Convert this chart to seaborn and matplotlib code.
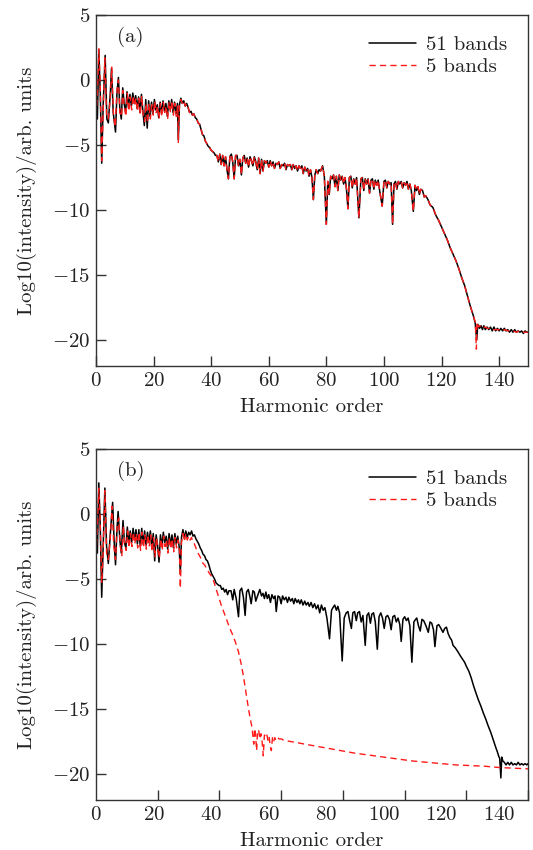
import numpy as np
import matplotlib
matplotlib.use('Agg')
import matplotlib.pyplot as plt
import seaborn as sns

# ---- panel (a): 51 bands (black) ----
a_order_51 = [
    0.0, 0.5, 1.0, 1.5, 2.0, 2.5, 3.2, 3.8, 4.3, 5.0,
    5.4, 6.0, 6.8, 7.3, 7.8, 8.3, 8.8, 9.3, 9.8, 10.3,
    10.8, 11.3, 11.8, 12.3, 12.8, 13.3, 13.8, 14.3, 14.8, 15.3,
    15.8, 16.3, 16.8, 17.3, 17.8, 18.3, 18.8, 19.3, 19.8, 20.3,
    20.8, 21.3, 21.8, 22.3, 22.8, 23.3, 23.8, 24.3, 24.8, 25.3,
    25.8, 26.3, 26.8, 27.3, 27.8, 28.3, 28.6, 29.0, 29.5, 30.0,
    30.5, 31.0, 31.5, 32.0, 32.5, 33.0, 33.5, 34.0, 34.5, 35.0,
    35.5, 36.0, 36.5, 37.0, 37.5, 38.0, 38.5, 39.0, 39.5, 40.0,
    40.5, 41.0, 41.5, 42.0, 42.5, 43.0, 43.5, 44.0, 44.5, 45.0,
    45.5, 46.0, 46.5, 47.0, 47.5, 48.0, 48.5, 49.0, 49.5, 50.0,
    50.5, 51.0, 51.5, 52.0, 52.5, 53.0, 53.5, 54.0, 54.5, 55.0,
    55.5, 56.0, 56.5, 57.0, 57.5, 58.0, 58.5, 59.0, 59.5, 60.0,
    60.5, 61.0, 61.5, 62.0, 62.5, 63.0, 63.5, 64.0, 64.5, 65.0,
    65.5, 66.0, 66.5, 67.0, 67.5, 68.0, 68.5, 69.0, 69.5, 70.0,
    70.5, 71.0, 71.5, 72.0, 72.5, 73.0, 73.5, 74.0, 74.5, 75.0,
    75.5, 76.0, 76.5, 77.0, 77.5, 78.0, 78.7, 79.3, 80.0, 80.5,
    81.0, 81.5, 82.0, 82.5, 83.0, 83.5, 84.0, 84.5, 85.0, 85.5,
    86.0, 86.5, 87.0, 87.5, 88.0, 88.5, 89.0, 89.5, 90.0, 90.5,
    91.3, 92.0, 92.5, 93.0, 93.5, 94.0, 94.5, 95.0, 95.5, 96.0,
    96.5, 97.0, 97.5, 98.0, 98.5, 99.4, 100.0, 100.5, 101.0, 101.5,
    102.0, 102.5, 103.0, 103.5, 104.0, 104.5, 105.0, 105.5, 106.0, 106.5,
    107.0, 107.5, 108.0, 108.5, 109.0, 109.5, 110.2, 110.8, 111.3, 111.8,
    112.3, 112.8, 113.4, 114.0, 114.5, 115.3, 116.0, 117.0, 118.0, 119.0,
    120.0, 121.0, 122.0, 123.0, 124.0, 125.0, 126.0, 127.0, 128.0, 129.0,
    130.0, 131.0, 131.7, 132.2, 132.6, 133.2, 133.7, 134.2, 134.7, 135.2,
    135.8, 136.4, 137.0, 137.6, 138.2, 138.8, 139.4, 140.0, 140.6, 141.2,
    141.8, 142.4, 143.0, 143.6, 144.2, 144.8, 145.4, 146.0, 146.6, 147.2,
    147.8, 148.4, 149.0, 149.6, 150.0,
]
a_logI_51 = [
    -1.5, -3.0, 2.3, -1.0, -6.4, -2.0, 1.9, -3.0, -3.3, -1.0,
    0.9, -2.5, -4.0, -1.0, 0.2, -2.2, -3.0, -0.6, -1.8, -2.5,
    -0.9, -2.1, -1.1, -2.0, -1.0, -1.8, -1.2, -2.2, -1.3, -2.5,
    -1.1, -2.4, -3.5, -1.5, -3.7, -1.6, -2.8, -1.7, -2.6, -1.5,
    -2.3, -1.9, -2.9, -1.7, -2.6, -1.6, -2.4, -1.8, -2.8, -1.6,
    -2.3, -1.5, -2.5, -1.7, -2.6, -1.8, -4.6, -1.9, -1.4, -1.8,
    -1.6, -2.0, -1.8, -2.1, -2.5, -2.4, -2.7, -2.6, -2.9, -3.0,
    -3.3, -3.4, -3.8, -4.2, -4.3, -4.7, -4.9, -5.1, -5.2, -5.4,
    -5.5, -5.6, -5.8, -5.8, -6.3, -5.7, -6.5, -5.8, -6.6, -5.9,
    -6.9, -7.6, -5.9, -5.7, -6.3, -7.6, -5.8, -5.8, -6.6, -6.1,
    -7.3, -6.0, -5.8, -6.4, -6.0, -6.7, -5.9, -6.2, -6.6, -5.9,
    -6.3, -6.9, -6.0, -7.2, -6.1, -7.0, -6.2, -6.4, -6.2, -6.7,
    -6.2, -6.6, -6.3, -6.8, -6.4, -6.5, -6.3, -6.8, -6.5, -6.6,
    -6.4, -6.9, -6.5, -6.6, -6.5, -6.9, -6.5, -6.8, -6.6, -7.0,
    -6.6, -6.8, -6.6, -7.2, -6.7, -7.0, -6.8, -7.4, -6.9, -7.5,
    -9.2, -7.3, -6.9, -7.2, -6.9, -7.0, -6.6, -7.4, -11.1, -7.8,
    -8.8, -7.4, -7.6, -7.3, -8.2, -7.4, -8.5, -7.3, -7.7, -7.4,
    -8.0, -7.5, -8.4, -9.9, -7.5, -7.4, -8.3, -7.6, -8.0, -7.5,
    -10.6, -7.6, -7.5, -8.5, -7.6, -8.0, -7.6, -8.7, -7.7, -7.6,
    -8.4, -7.7, -8.1, -7.7, -8.5, -9.7, -7.8, -7.7, -8.3, -7.8,
    -8.0, -7.9, -11.1, -8.0, -7.8, -8.4, -7.8, -8.0, -7.8, -8.3,
    -7.9, -8.1, -7.8, -8.4, -8.0, -8.5, -10.1, -8.1, -8.5, -8.2,
    -8.8, -8.4, -8.5, -9.0, -8.9, -9.2, -9.6, -9.8, -10.4, -10.8,
    -11.3, -11.8, -12.3, -12.9, -13.4, -13.9, -14.5, -15.2, -15.8, -16.6,
    -17.4, -18.1, -18.7, -20.0, -18.8, -19.1, -18.9, -19.2, -18.9, -19.2,
    -19.0, -19.2, -19.0, -19.3, -19.0, -19.3, -19.1, -19.3, -19.1, -19.3,
    -19.1, -19.3, -19.2, -19.4, -19.2, -19.4, -19.2, -19.4, -19.3, -19.4,
    -19.3, -19.5, -19.3, -19.4, -19.4,
]

# ---- panel (a): 5 bands (red) - own values at low orders and near the cut-off,
# identical to the 51-band curve in between
a_order_5_low = [
    0.0, 0.5, 1.0, 1.5, 2.0, 2.5, 3.1, 3.7, 4.3, 5.0,
    5.5, 6.1, 6.7, 7.3, 7.8, 8.3, 8.9, 9.3, 9.9, 10.4,
    10.9, 11.4, 11.9, 12.4, 12.9, 13.4, 13.9, 14.4, 14.9, 15.4,
    15.9, 16.4, 16.9, 17.4, 17.9, 18.4, 18.9, 19.4, 19.9, 20.4,
    20.9, 21.4, 21.9, 22.4, 22.9, 23.4, 23.9, 24.4, 24.9, 25.4,
    25.9, 26.4, 26.9, 27.4, 27.9, 28.4, 28.6, 29.0, 29.5, 30.0,
]
a_logI_5_low = [
    -2.8, -1.2, 2.4, -0.5, -6.2, -2.3, 1.7, -2.8, -3.0, -1.3,
    1.0, -2.8, -3.6, -0.8, 0.0, -2.5, -2.8, -0.8, -2.1, -2.8,
    -1.0, -2.4, -1.3, -2.3, -1.2, -2.0, -1.4, -2.4, -1.4, -2.7,
    -1.2, -2.7, -3.2, -1.8, -3.3, -1.8, -3.0, -1.9, -2.7, -1.6,
    -2.5, -2.0, -3.0, -1.8, -2.8, -1.7, -2.5, -2.0, -3.0, -1.7,
    -2.5, -1.6, -2.7, -1.8, -2.8, -2.0, -4.8, -2.0, -1.5, -1.8,
]
a_order_5_tail = [
    128.0, 129.0, 130.0, 131.0, 131.7, 132.1, 132.3, 132.7, 133.3, 134.0,
    135.0, 136.0, 137.0, 138.0, 139.0, 140.0, 141.0, 142.0, 143.0, 144.0,
    145.0, 146.0, 147.0, 148.0, 149.0, 150.0,
]
a_logI_5_tail = [
    -15.8, -16.6, -17.4, -18.1, -18.6, -20.7, -18.6, -19.0, -18.9, -19.1,
    -19.0, -19.1, -19.1, -19.2, -19.2, -19.2, -19.3, -19.2, -19.3, -19.3,
    -19.3, -19.4, -19.3, -19.4, -19.4, -19.4,
]

# ---- panel (b): 51 bands (black) ----
b_order_51 = [
    0.0, 0.5, 1.0, 1.5, 2.0, 2.5, 3.1, 3.7, 4.3, 5.0,
    5.8, 6.3, 6.8, 7.3, 7.7, 8.3, 8.8, 9.4, 9.9, 10.4,
    10.9, 11.4, 11.9, 12.4, 12.9, 13.4, 13.9, 14.4, 14.9, 15.4,
    15.9, 16.4, 16.9, 17.4, 17.9, 18.4, 18.9, 19.4, 19.9, 20.4,
    20.9, 21.4, 21.9, 22.4, 22.9, 23.4, 23.9, 24.4, 24.9, 25.4,
    25.9, 26.4, 26.9, 27.4, 27.9, 28.4, 28.9, 29.3, 29.7, 30.2,
    30.7, 31.2, 31.7, 32.2, 32.7, 33.2, 33.7, 34.2, 34.7, 35.2,
    35.7, 36.2, 36.7, 37.2, 37.7, 38.2, 38.7, 39.2, 39.7, 40.2,
    40.7, 41.2, 41.7, 42.2, 42.7, 43.2, 43.7, 44.2, 44.7, 45.2,
    45.7, 46.2, 46.9, 47.5, 48.0, 48.7, 49.5, 50.0, 50.6, 51.2,
    51.8, 52.3, 52.9, 53.5, 53.9, 54.5, 55.0, 55.5, 56.1, 56.9,
    57.5, 58.0, 58.5, 59.0, 59.5, 60.0, 60.6, 61.1, 61.7, 62.2,
    62.6, 63.2, 63.8, 64.3, 64.8, 65.4, 66.0, 66.5, 67.0, 67.6,
    68.2, 68.7, 69.2, 69.8, 70.3, 70.8, 71.3, 71.9, 72.5, 73.0,
    73.6, 74.1, 74.7, 75.3, 75.9, 76.5, 77.1, 77.7, 78.3, 78.9,
    79.5, 80.2, 81.1, 81.8, 82.3, 82.9, 83.5, 84.0, 84.6, 85.5,
    86.2, 86.9, 87.5, 88.1, 88.7, 89.2, 89.8, 90.4, 90.9, 91.5,
    92.1, 92.7, 93.5, 94.1, 94.7, 95.3, 95.8, 96.4, 97.0, 97.7,
    98.3, 98.9, 99.5, 100.1, 100.7, 101.3, 101.9, 102.5, 103.1, 103.7,
    104.3, 104.9, 105.5, 106.0, 106.6, 107.2, 107.8, 108.4, 109.0, 109.7,
    110.4, 111.0, 111.4, 112.0, 112.6, 113.2, 113.8, 114.6, 115.4, 116.0,
    116.6, 117.2, 117.7, 118.4, 119.0, 119.8, 120.5, 121.1, 121.7, 122.3,
    122.9, 123.5, 124.0, 124.8, 125.7, 126.5, 127.4, 128.0, 128.6, 129.5,
    130.3, 131.1, 132.0, 132.8, 133.7, 134.5, 135.4, 136.2, 137.1, 137.7,
    138.3, 138.9, 139.4, 139.8, 140.2, 140.6, 140.9, 141.3, 141.8, 142.4,
    143.0, 143.6, 144.2, 144.8, 145.4, 146.0, 146.6, 147.2, 147.8, 148.4,
    149.0, 149.6, 150.0,
]
b_logI_51 = [
    -0.5, -3.0, 2.4, -1.0, -6.4, -2.5, 2.0, -2.5, -3.8, -1.5,
    0.9, -2.0, -3.9, -1.2, 0.2, -2.0, -3.0, -0.5, -2.2, -2.6,
    -1.0, -2.3, -1.3, -2.2, -1.1, -2.0, -1.2, -2.3, -1.2, -2.5,
    -1.1, -2.3, -1.3, -2.4, -1.4, -2.2, -1.3, -2.6, -1.5, -3.6,
    -1.6, -2.4, -3.7, -1.6, -2.5, -1.4, -2.2, -1.7, -2.7, -1.5,
    -2.4, -1.6, -2.6, -1.5, -2.3, -1.7, -2.5, -4.6, -1.8, -1.2,
    -1.9, -1.3, -1.8, -1.4, -1.6, -1.3, -1.7, -1.6, -1.9, -2.1,
    -2.3, -2.6, -2.8, -3.1, -3.2, -3.5, -3.6, -3.9, -4.3, -4.6,
    -4.8, -5.0, -5.3, -5.4, -5.5, -5.5, -5.8, -5.7, -6.0, -5.8,
    -6.2, -5.9, -5.9, -6.6, -5.8, -6.5, -7.9, -5.9, -5.7, -6.4,
    -7.8, -6.0, -5.8, -6.4, -6.9, -5.9, -6.0, -6.7, -6.3, -5.8,
    -6.3, -6.1, -6.5, -6.0, -6.5, -6.2, -6.8, -6.2, -6.5, -6.3,
    -7.5, -6.3, -6.4, -6.9, -6.3, -6.6, -6.4, -6.8, -6.4, -6.7,
    -6.5, -6.9, -6.5, -6.8, -6.6, -6.9, -6.6, -7.0, -6.7, -7.0,
    -6.8, -7.1, -6.8, -7.2, -6.9, -7.3, -7.0, -7.6, -7.0, -7.4,
    -7.2, -8.0, -9.6, -7.4, -7.2, -7.0, -7.4, -7.1, -7.6, -11.3,
    -8.0, -7.6, -7.5, -8.2, -8.8, -7.6, -7.5, -8.2, -7.6, -7.5,
    -8.3, -7.8, -10.1, -7.8, -7.6, -8.4, -7.7, -7.6, -8.3, -10.4,
    -7.9, -7.6, -8.0, -8.8, -7.9, -7.8, -8.1, -8.9, -7.9, -7.8,
    -8.3, -8.0, -8.5, -9.8, -8.1, -7.9, -8.2, -8.0, -8.6, -11.4,
    -8.3, -8.1, -8.0, -8.6, -9.0, -8.1, -8.2, -8.6, -9.1, -8.3,
    -8.4, -8.9, -10.2, -8.6, -8.5, -8.8, -9.1, -8.8, -8.7, -9.2,
    -9.5, -9.7, -10.1, -10.3, -10.6, -10.9, -11.2, -11.4, -11.7, -12.1,
    -12.6, -13.2, -13.8, -14.3, -14.8, -15.3, -15.8, -16.3, -16.8, -17.2,
    -17.6, -18.0, -18.3, -18.6, -18.8, -20.3, -18.7, -19.0, -19.1, -19.3,
    -19.1, -19.3, -19.1, -19.3, -19.2, -19.3, -19.1, -19.3, -19.2, -19.3,
    -19.2, -19.3, -19.2,
]

# ---- panel (b): 5 bands (red) ----
b_order_5 = [
    0.0, 0.5, 1.0, 1.5, 2.0, 2.5, 3.1, 3.7, 4.3, 5.0,
    5.6, 6.2, 6.8, 7.4, 7.9, 8.5, 9.0, 9.5, 10.0, 10.5,
    11.0, 11.5, 12.0, 12.5, 13.0, 13.5, 14.0, 14.5, 15.0, 15.5,
    16.0, 16.5, 17.0, 17.5, 18.0, 18.5, 19.0, 19.5, 20.0, 20.5,
    21.0, 21.5, 22.0, 22.5, 23.0, 23.5, 24.0, 24.5, 25.0, 25.5,
    26.0, 26.5, 27.0, 27.5, 28.0, 28.5, 29.0, 29.3, 29.7, 30.2,
    30.7, 31.2, 31.7, 32.2, 32.7, 33.2, 33.7, 34.2, 34.7, 35.2,
    35.7, 36.2, 36.7, 37.2, 37.7, 38.2, 38.7, 39.5, 40.5, 41.5,
    42.5, 43.5, 44.5, 45.5, 46.5, 47.5, 48.5, 49.5, 50.5, 51.3,
    52.0, 52.7, 53.3, 53.8, 54.2, 54.5, 54.8, 55.1, 55.4, 55.8,
    56.1, 56.5, 56.9, 57.3, 57.7, 58.1, 58.5, 58.9, 59.3, 59.7,
    60.1, 60.5, 60.9, 61.3, 61.7, 62.1, 62.5, 63.0, 63.6, 64.4,
    65.2, 70.0, 75.0, 80.0, 85.0, 90.0, 95.0, 100.0, 105.0, 110.0,
    115.0, 120.0, 125.0, 130.0, 135.0, 140.0, 145.0, 150.0,
]
b_logI_5 = [
    -3.2, -1.0, 2.0, -0.8, -5.3, -3.0, 1.8, -3.0, -3.5, -1.8,
    0.6, -2.5, -3.5, -0.7, -0.3, -2.5, -3.2, -0.9, -2.4, -2.8,
    -1.3, -2.6, -1.5, -2.5, -1.4, -2.3, -1.5, -2.6, -1.4, -2.8,
    -1.4, -2.6, -1.6, -2.7, -1.6, -2.5, -1.6, -2.9, -1.8, -3.3,
    -1.8, -2.7, -3.4, -1.9, -2.8, -1.7, -2.5, -2.0, -3.0, -1.8,
    -2.7, -1.9, -2.9, -1.8, -2.6, -2.0, -2.8, -5.7, -2.2, -1.5,
    -2.1, -1.5, -2.0, -1.7, -2.0, -1.8, -2.2, -2.3, -2.6, -2.9,
    -3.1, -3.3, -3.6, -3.8, -3.9, -4.1, -4.3, -4.6, -4.9, -5.6,
    -6.3, -7.0, -7.6, -8.2, -8.8, -9.3, -9.9, -10.6, -11.6, -12.6,
    -13.6, -14.6, -15.4, -16.0, -16.4, -17.1, -17.7, -16.5, -16.9, -18.2,
    -16.8, -16.6, -17.3, -16.9, -17.5, -18.6, -17.0, -17.1, -16.9, -17.4,
    -17.1, -17.8, -18.2, -17.2, -17.5, -17.2, -17.4, -17.2, -17.3, -17.3,
    -17.4, -17.6, -17.8, -18.0, -18.2, -18.4, -18.55, -18.7, -18.85, -19.0,
    -19.1, -19.2, -19.3, -19.35, -19.4, -19.5, -19.55, -19.6,
]

x_tick_labels = [0, 20, 40, 60, 80, 100, 120, 140]
y_ticks = [-20, -15, -10, -5, 0, 5]
panel_tags = ['(a)', '(b)']
series_names = ['51 bands', '5 bands']

# red curve of panel (a): own low-order part + shared middle + own tail
a51_h = np.array(a_order_51)
a51_v = np.array(a_logI_51)
mid = (a51_h > 30) & (a51_h < 128)
a5_h = np.concatenate([a_order_5_low, a51_h[mid], a_order_5_tail])
a5_v = np.concatenate([a_logI_5_low, a51_v[mid], a_logI_5_tail])

sns.set_theme(style='ticks')
plt.rcParams['font.family'] = ['cmr10', 'DejaVu Serif']
plt.rcParams['mathtext.fontset'] = 'cm'
plt.rcParams['axes.formatter.use_mathtext'] = True
plt.rcParams['axes.unicode_minus'] = True

FS = 15
TXT = '#222222'

fig = plt.figure(figsize=(5.33, 8.5), dpi=100)
ax_a = fig.add_axes([0.180, 0.5694, 0.8105, 0.4129])
ax_b = fig.add_axes([0.180, 0.0588, 0.8105, 0.4129])

panels = [
    (ax_a, a51_h, a51_v, a5_h, a5_v),
    (ax_b, b_order_51, b_logI_51, b_order_5, b_logI_5),
]

for i, (ax, h51, v51, h5, v5) in enumerate(panels):
    sns.lineplot(x=h51, y=v51, ax=ax, color='black', lw=1.1, sort=False,
                 label=series_names[0])
    sns.lineplot(x=h5, y=v5, ax=ax, color='#ff1a1a', lw=1.0, sort=False,
                 linestyle=(0, (4.5, 3)), label=series_names[1])

    ax.set_xlim(0, 150)
    ax.set_ylim(-22, 5)
    ax.set_yticks(y_ticks)
    ax.set_xlabel('Harmonic order', fontsize=FS, color=TXT, labelpad=6)
    ax.set_ylabel('Log10(intensity)/arb. units', fontsize=FS, color=TXT, labelpad=11)
    for s in ax.spines.values():
        s.set_color('#333333')
        s.set_linewidth(1.0)
    ax.tick_params(axis='both', which='both', direction='in', length=7, width=1.0,
                   colors='#333333', labelcolor=TXT, labelsize=FS, pad=4,
                   top=False, right=False)
    ax.text(0.048, 0.937, panel_tags[i], transform=ax.transAxes, fontsize=FS,
            color=TXT, ha='left', va='center')
    leg = ax.legend(loc='upper right', frameon=False, fontsize=FS,
                    handlelength=2.3, handletextpad=0.45, labelspacing=0.15,
                    borderaxespad=0.6)
    for t in leg.get_texts():
        t.set_color(TXT)

# panel (a): ticks and labels aligned
ax_a.set_xticks(x_tick_labels)

# panel (b): as in the original, tick marks are spread evenly over the full
# width while the labels sit at their true positions
ax_b.set_xticks(x_tick_labels)
ax_b.tick_params(axis='x', which='major', length=0)
ax_b.set_xticks(np.linspace(0, 150, 8), minor=True)
ax_b.tick_params(axis='x', which='minor', direction='in', length=7, width=1.0,
                 colors='#333333', top=False)

fig.savefig('out.png', dpi=100)
